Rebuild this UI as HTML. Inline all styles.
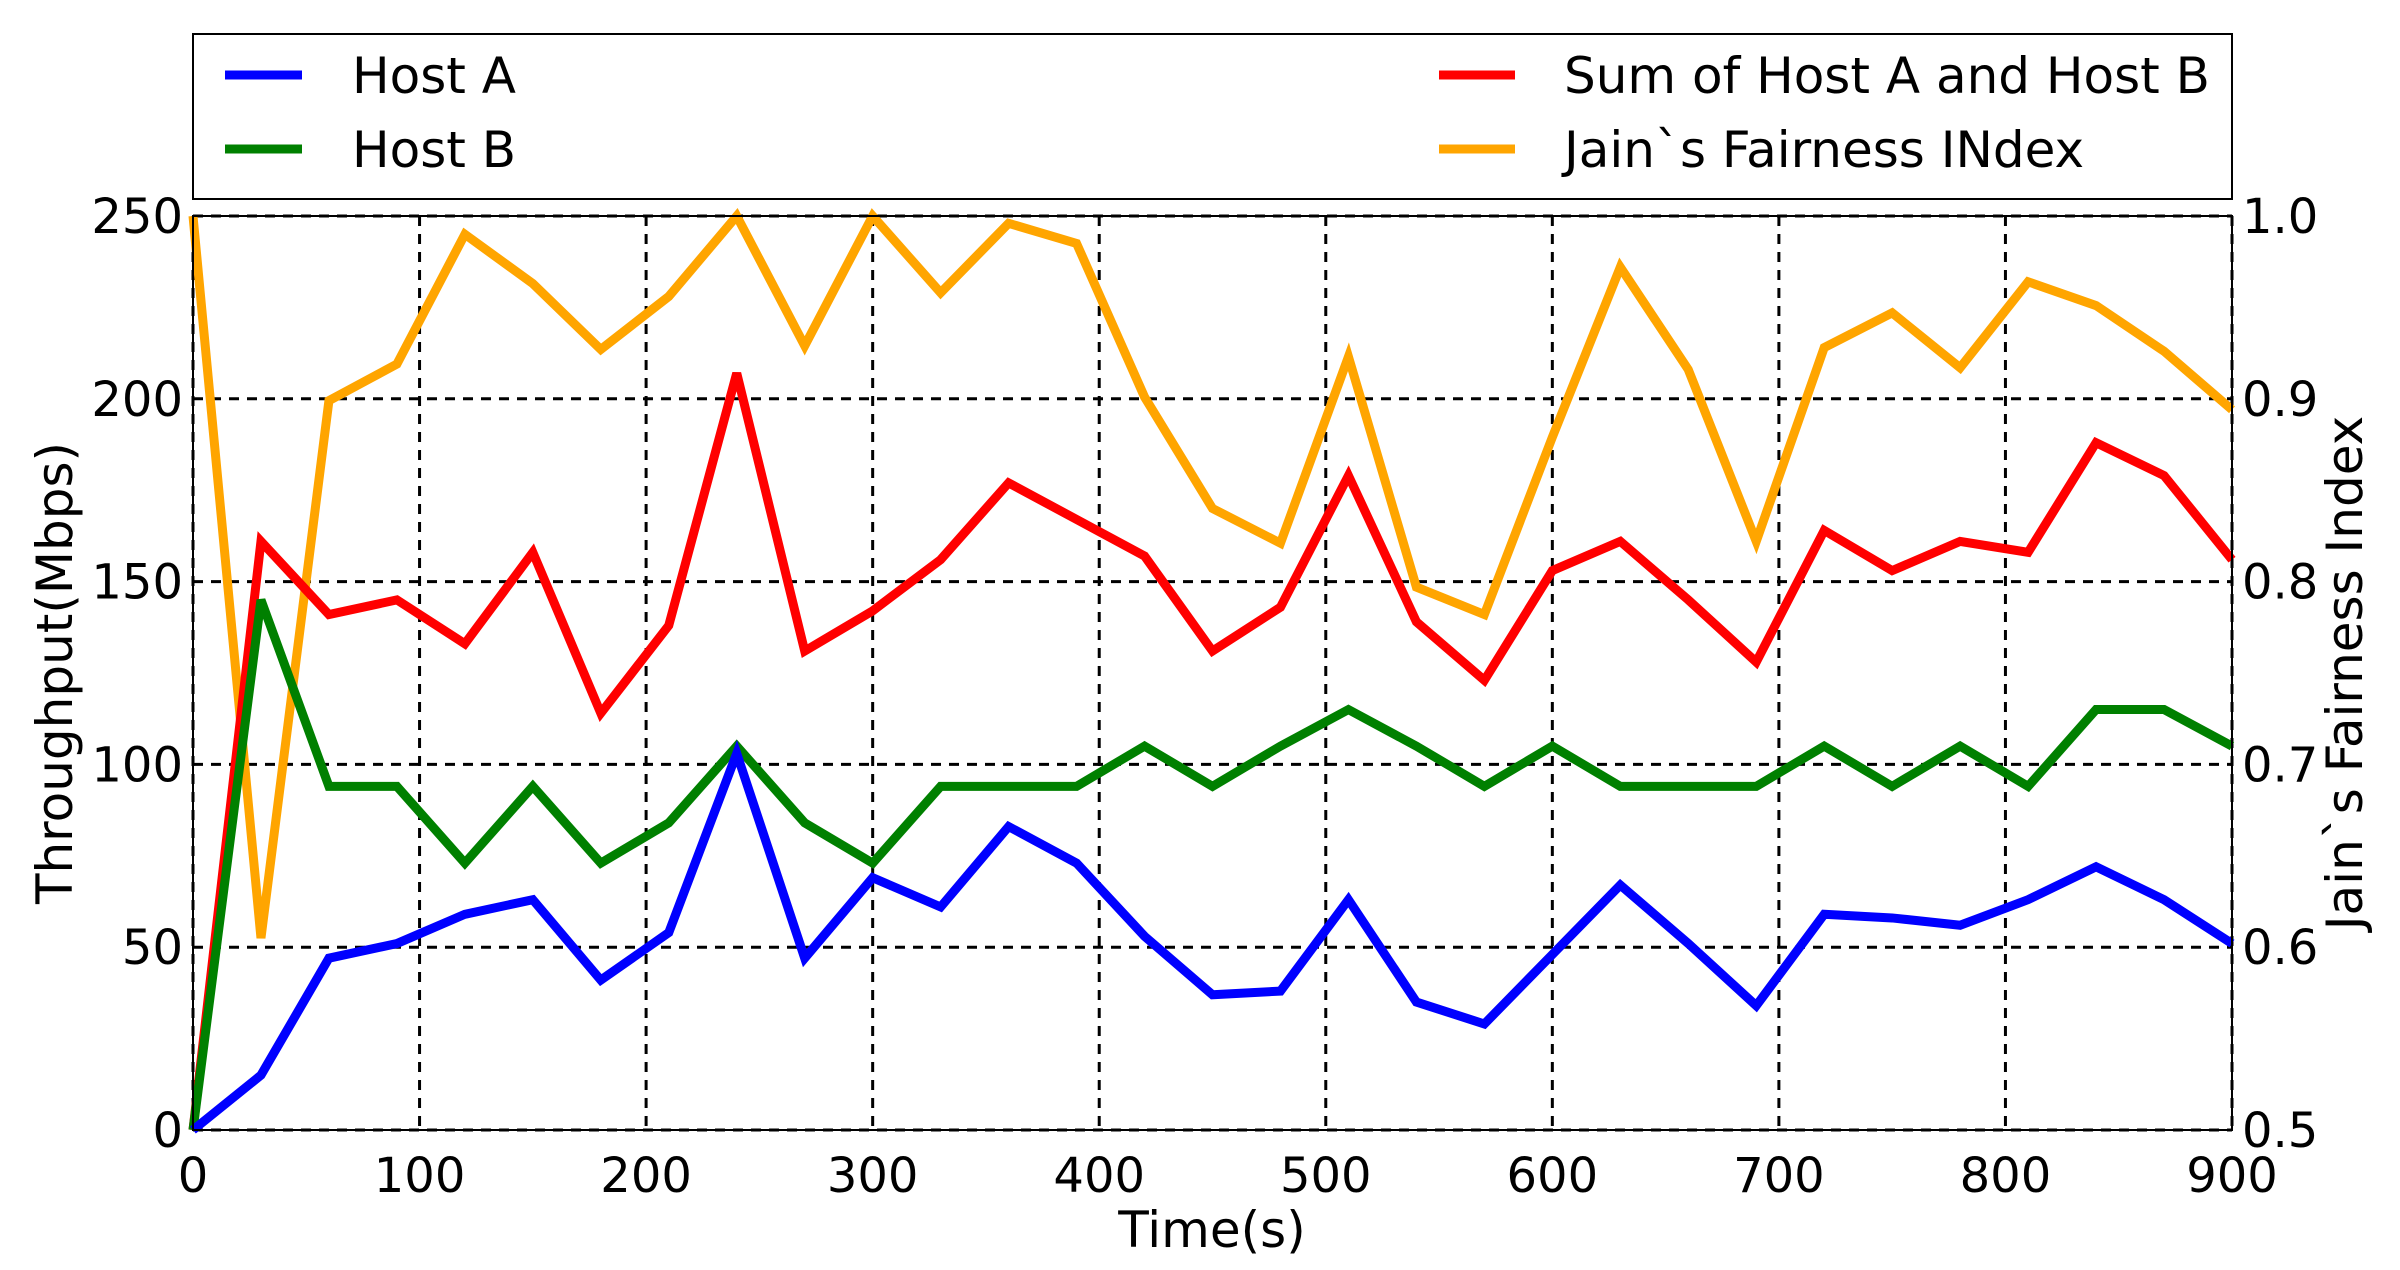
<!DOCTYPE html>
<html><head><meta charset="utf-8"><style>
html,body{margin:0;padding:0;background:#fff;}
svg{display:block;font-family:"DejaVu Sans","Liberation Sans",sans-serif;}
</style></head><body>
<svg id="chart" width="2400" height="1270" xmlns="http://www.w3.org/2000/svg">
<g id="grid"></g>
<g id="series"></g>
<rect x="193" y="216" width="2039" height="914" fill="none" stroke="#000" stroke-width="2"/>
<g id="ticks"></g>
<text x="72" y="673" font-size="50" text-anchor="middle" transform="rotate(-90 72 673)">Throughput(Mbps)</text>
<text x="2362" y="673" font-size="50" text-anchor="middle" transform="rotate(-90 2362 673)">Jain`s Fairness Index</text>
<text x="1212" y="1247" font-size="50" text-anchor="middle">Time(s)</text>
<g>
<rect x="193" y="34" width="2039" height="165" fill="#fff" stroke="#000" stroke-width="2"/>
<line x1="225" y1="75" x2="302" y2="75" stroke="#0000ff" stroke-width="9"/>
<text x="352" y="93" font-size="50">Host A</text>
<line x1="225" y1="149" x2="302" y2="149" stroke="#008000" stroke-width="9"/>
<text x="352" y="167" font-size="50">Host B</text>
<line x1="1439" y1="75" x2="1515" y2="75" stroke="#ff0000" stroke-width="9"/>
<text x="1564" y="93" font-size="50">Sum of Host A and Host B</text>
<line x1="1439" y1="149" x2="1515" y2="149" stroke="#ffa500" stroke-width="9"/>
<text x="1564" y="167" font-size="50">Jain`s Fairness INdex</text>
</g>
</svg>
<script>
const times=[0,30,60,90,120,150,180,210,240,270,300,330,360,390,420,450,480,510,540,570,600,630,660,690,720,750,780,810,840,870,900];
const hostA=[0,15,47,51,59,63,41,54,103,47,69,61,83,73,53,37,38,63,35,29,48,67,51,34,59,58,56,63,72,63,51];
const hostB=[0,145,94,94,73,94,73,84,105,84,73,94,94,94,105,94,105,115,105,94,105,94,94,94,105,94,105,94,115,115,105];
const sumAB=[0,161,141,145,133,158,114,138,207,131,142,156,177,167,157,131,143,179,139,123,153,161,145,128,164,153,161,158,188,179,156];
const jain=[1.0,0.605,0.899,0.919,0.99,0.963,0.927,0.956,1.0,0.929,1.0,0.958,0.996,0.985,0.901,0.840,0.821,0.923,0.797,0.782,0.879,0.972,0.916,0.822,0.928,0.947,0.917,0.964,0.951,0.926,0.894];
const xTicks=[0,100,200,300,400,500,600,700,800,900];
const yTicks=[0,50,100,150,200,250];
const y2Ticks=["0.5","0.6","0.7","0.8","0.9","1.0"];
const L=193,R=2232,T=216,B=1130;
const X=v=>L+(v/900)*(R-L);
const Y=v=>B-(v/250)*(B-T);
const Y2=v=>B-((v-0.5)/0.5)*(B-T);
const NS="http://www.w3.org/2000/svg";
const grid=document.getElementById('grid'),ticks=document.getElementById('ticks'),series=document.getElementById('series');
function mk(tag,attrs,parent){const e=document.createElementNS(NS,tag);for(const k in attrs)e.setAttribute(k,attrs[k]);parent.appendChild(e);return e;}
xTicks.forEach(t=>{
  const g=mk('line',{x1:X(t),x2:X(t),y1:T,y2:B,stroke:'#000','stroke-width':3,'stroke-dasharray':'10,8'},grid);
  
  
  const tx=mk('text',{x:X(t),y:B+62,'font-size':48,'text-anchor':'middle'},ticks);
  tx.textContent=t;
  
  
});
yTicks.forEach((t,i)=>{
  const g=mk('line',{x1:L,x2:R,y1:Y(t),y2:Y(t),stroke:'#000','stroke-width':3,'stroke-dasharray':'10,8'},grid);
  
  
  const tx=mk('text',{x:L-10,y:Y(t)+17,'font-size':48,'text-anchor':'end'},ticks);
  tx.textContent=t;
  
  
  const t2=mk('text',{x:R+10,y:Y(t)+17,'font-size':48},ticks);
  t2.textContent=y2Ticks[i];
  
  
});
function line(vals,fy,color,name){
  const pts=vals.map((v,i)=>X(times[i])+','+fy(v)).join(' ');
  const p=mk('polyline',{points:pts,fill:'none',stroke:color,'stroke-width':9,'stroke-linejoin':'miter'},series);
  
  
}
line(jain,Y2,'#ffa500','jain-line');
line(sumAB,Y,'#ff0000','sum-line');
line(hostB,Y,'#008000','host-b-line');
line(hostA,Y,'#0000ff','host-a-line');
</script>
</body></html>
